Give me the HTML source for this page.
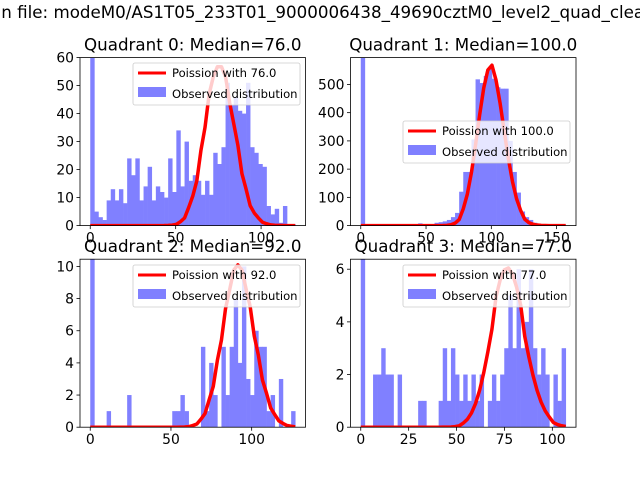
<!DOCTYPE html>
<html><head><meta charset="utf-8"><style>
html,body{margin:0;padding:0;background:#fff}
svg{display:block;font-family:"DejaVu Sans","Liberation Sans",sans-serif}
</style></head><body>
<svg id="fig" width="640" height="480" viewBox="0 0 640 480">
<rect width="640" height="480" fill="#fff"/>
<text x="-9" y="18" font-size="16.7">an file: modeM0/AS1T05_233T01_9000006438_49690cztM0_level2_quad_clean.evt</text>
</svg>
<script>
// ---- data ----
const q0Counts=[150,5,3,2,9,13,9,13,8,24,18,24,9,14,21,9,14,12,10,24,12,34,14,30,16,18,16,11,16,11,26,22,28,51,43,46,41,40,51,28,26,22,21,7,4,6,1,7,0.5,0.5];
const q1Counts=[1000,0,0,0,0,0,0,0,0,0,0,0,0,0,8,3,3,5,10,12,15,20,30,45,120,190,190,305,518,505,530,560,520,490,485,485,300,190,117,50,30,20,10,5,2,1,1,0,0,0];
const q2Counts=[20,0,0,0,1,0,0,0,0,2,0,0,0,0,0,0,0,0,0,0,1,1,2,1,0,0,0,5,1,4,2,0,5,2,5,8,4,10,3,2,6,5,5,1,2,0,3,0,0,1];
const q3Counts=[20,0,0,2,2,3,2,2,0,2,0,0,0,0,1,1,0,0,0,1,3,1,3,2,1,2,1,2,1,2,0,1,2,1,2,3,5,3,6,3,4,6,3,2,3,2,0,2,1,3];
const histMax=[120,157,127,107];
const medians=[76,100,92,77];
const curvePeaks=[57.5,568,10.1,6.05];
const yMaxes=[60,595,10.45,6.38];
const xTicks0=[0,50,100], xTicks1=[0,50,100,150], xTicks2=[0,50,100], xTicks3=[0,25,50,75,100];
const yTicks0=[0,10,20,30,40,50,60], yTicks1=[0,100,200,300,400,500], yTicks2=[0,2,4,6,8,10], yTicks3=[0,2,4,6];
const titles=["Quadrant 0: Median=76.0","Quadrant 1: Median=100.0","Quadrant 2: Median=92.0","Quadrant 3: Median=77.0"];

const NS="http://www.w3.org/2000/svg";
const svg=document.getElementById('fig');
function mk(tag,attrs,parent){const e=document.createElementNS(NS,tag);for(const k in attrs)e.setAttribute(k,attrs[k]);(parent||svg).appendChild(e);return e;}
function lnPois(k,l){let lg=0;for(let i=2;i<=k;i++)lg+=Math.log(i);return k*Math.log(l)-l-lg;}

const boxes=[[80,57.6],[350.5,57.6],[80,259.2],[350.5,259.2]];
const W=225.5,H=168;
const legendPos=[[133,63],[403,121],[133,265],[403,265]];
const counts=[q0Counts,q1Counts,q2Counts,q3Counts];
const xT=[xTicks0,xTicks1,xTicks2,xTicks3], yT=[yTicks0,yTicks1,yTicks2,yTicks3];

for(let q=0;q<4;q++){
  const [L,T]=boxes[q];
  const g=mk('g',{});
  
  
  const xmax=histMax[q], x0=-0.05*xmax, x1=1.05*xmax;
  const sx=v=>L+(v-x0)/(x1-x0)*W;
  const sy=v=>T+H-v/yMaxes[q]*H;
  const clipId='clip'+q;
  const cp=mk('clipPath',{id:clipId},g);mk('rect',{x:L,y:T,width:W,height:H},cp);
  const plot=mk('g',{'clip-path':'url(#'+clipId+')'},g);
  const n=counts[q].length, bw=xmax/n, lam=medians[q];
  // bars
  counts[q].forEach((c,i)=>{
    if(c<=0)return;
    const xa=sx(i*bw), xb=sx((i+1)*bw), y=sy(c);
    const r=mk('rect',{x:xa,y:y,width:xb-xa+0.3,height:sy(0)-y,fill:'#8080ff'},plot);
    
    
  });
  // poisson curve on top
  const mode=Math.floor(lam), norm=curvePeaks[q]/Math.exp(lnPois(mode,lam));
  let pts=[];
  for(let i=0;i<=n;i++){const xv=i*bw;const k=Math.round(xv);pts.push(sx(xv).toFixed(2)+','+sy(norm*Math.exp(lnPois(k,lam))).toFixed(2));}
  const pl=mk('polyline',{points:pts.join(' '),fill:'none',stroke:'#ff0000','stroke-width':3.5,'stroke-linejoin':'round'},plot);
  
  
  // frame
  mk('rect',{x:L,y:T,width:W,height:H,fill:'none',stroke:'#000','stroke-width':0.8},g);
  // ticks
  xT[q].forEach(v=>{const x=sx(v);mk('line',{x1:x,x2:x,y1:T+H,y2:T+H+3.5,stroke:'#000','stroke-width':0.8},g);
    const t=mk('text',{x:x,y:T+H+17,'font-size':13.9,'text-anchor':'middle'},g);t.textContent=v;
    });
  yT[q].forEach(v=>{const y=sy(v);mk('line',{x1:L-3.5,x2:L,y1:y,y2:y,stroke:'#000','stroke-width':0.8},g);
    const t=mk('text',{x:L-6,y:y+5,'font-size':13.9,'text-anchor':'end'},g);t.textContent=v;
    });
  // title
  const tt=mk('text',{x:L+W/2,y:T-7,'font-size':16.7,'text-anchor':'middle'},g);tt.textContent=titles[q];
  
  // legend
  const [lx,ly]=legendPos[q];
  const lg=mk('g',{},g);
  
  
  mk('rect',{x:lx,y:ly,width:167,height:42,rx:2,fill:'#fff','fill-opacity':0.8,stroke:'#ccc','stroke-width':0.8},lg);
  mk('line',{x1:lx+5,x2:lx+33,y1:ly+10,y2:ly+10,stroke:'#ff0000','stroke-width':3},lg);
  const t1=mk('text',{x:lx+39,y:ly+14,'font-size':11.6},lg);t1.textContent='Poission with '+medians[q].toFixed(1);
  
  mk('rect',{x:lx+5,y:ly+24,width:28,height:10,fill:'#8080ff'},lg);
  const t2=mk('text',{x:lx+39,y:ly+35,'font-size':11.6},lg);t2.textContent='Observed distribution';
  
}
</script>
</body></html>
